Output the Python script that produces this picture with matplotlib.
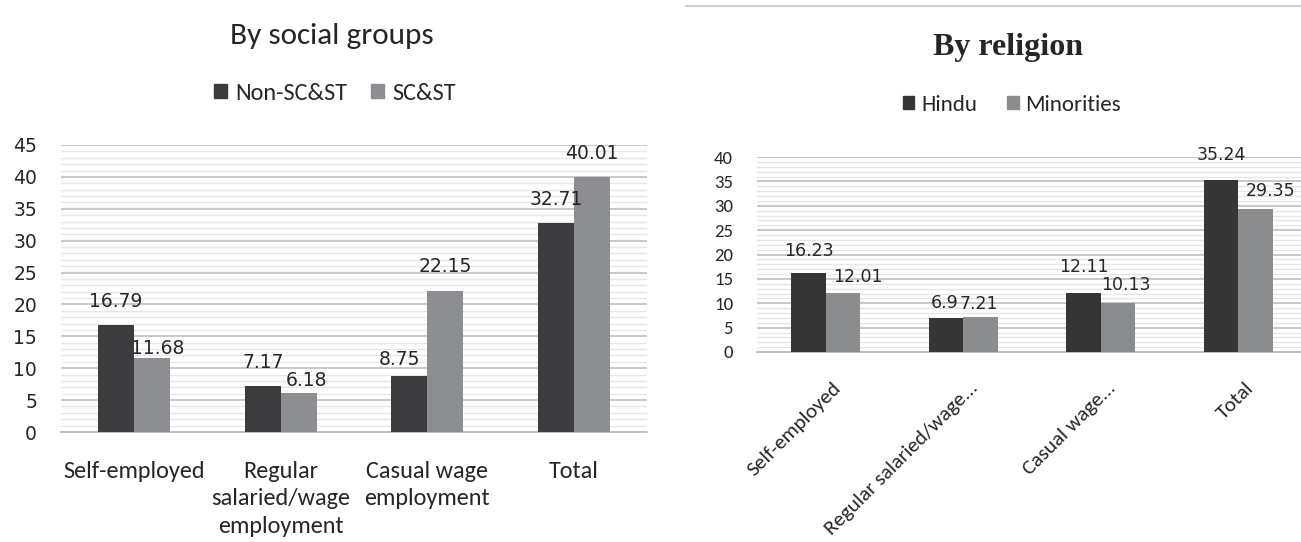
import matplotlib
matplotlib.use("Agg")
import matplotlib.pyplot as plt
from matplotlib import font_manager as fm
from matplotlib.patches import Patch
from matplotlib.lines import Line2D
import numpy as np

# ---------------- data ----------------
social_categories = ["Self-employed", "Regular\nsalaried/wage\nemployment",
                     "Casual wage\nemployment", "Total"]
non_sc_st = [16.79, 7.17, 8.75, 32.71]
sc_st = [11.68, 6.18, 22.15, 40.01]
social_series = ["Non-SC&ST", "SC&ST"]
social_yticks = [0, 5, 10, 15, 20, 25, 30, 35, 40, 45]

religion_categories = ["Self-employed", "Regular salaried/wage...",
                       "Casual wage...", "Total"]
hindu = [16.23, 6.9, 12.11, 35.24]
minorities = [12.01, 7.21, 10.13, 29.35]
religion_series = ["Hindu", "Minorities"]
religion_yticks = [0, 5, 10, 15, 20, 25, 30, 35, 40]

# ---------------- style ----------------
W, H = 1301, 542
avail = {f.name for f in fm.fontManager.ttflist}


def pick(*names):
    for n in names:
        if n in avail:
            return n
    return "DejaVu Sans"


SANS = pick("Carlito", "Lato", "Open Sans")
SERIF = pick("Liberation Serif", "DejaVu Serif")
NUM = "DejaVu Sans"

DARK_L, GRAY_L = "#3c3c3e", "#8d8e91"
DARK_R, GRAY_R = "#353535", "#8b8c8e"
MAJOR_C, MINOR_C = "#c4c4c4", "#e6e6e6"

PT = 0.72  # points per pixel at dpi 100

fig = plt.figure(figsize=(W / 100, H / 100), dpi=100)


def fx(px):
    return px / W


def fy(py):
    return 1 - py / H


axL = fig.add_axes([fx(61), fy(432), (647 - 61) / W, (432 - 145) / H])
axR = fig.add_axes([fx(757), fy(352), (1307 - 757) / W, (352 - 157) / H])


def style_axes(ax, yticks, tick_font, tick_size, ymax):
    ax.set_ylim(0, ymax)
    ax.set_xlim(-0.5, 3.5)
    ax.set_yticks(yticks)
    ax.set_yticks(np.arange(0, ymax + 0.5, 1), minor=True)
    ax.grid(which="major", axis="y", color=MAJOR_C, lw=1.3)
    ax.grid(which="minor", axis="y", color=MINOR_C, lw=1.0)
    ax.set_axisbelow(True)
    for s in ["top", "right", "left"]:
        ax.spines[s].set_visible(False)
    ax.spines["bottom"].set_color("#bdbdbd")
    ax.spines["bottom"].set_linewidth(1.3)
    ax.tick_params(axis="y", which="both", length=0, pad=24 * PT,
                   labelsize=tick_size, labelcolor="#262626")
    ax.tick_params(axis="x", which="both", length=0)
    for lab in ax.get_yticklabels():
        lab.set_fontfamily(tick_font)


def draw_bars(ax, s1, s2, c1, c2, width, offs1, offs2, lab_size):
    x = np.arange(len(s1))
    b1 = ax.bar(x - width / 2, s1, width, color=c1, zorder=3)
    b2 = ax.bar(x + width / 2, s2, width, color=c2, zorder=3)
    for bars, vals, offs in ((b1, s1, offs1), (b2, s2, offs2)):
        for rect, v, (dx, dy) in zip(bars, vals, offs):
            ax.annotate(f"{v:g}", xy=(rect.get_x() + rect.get_width() / 2, v),
                        xytext=(dx * PT, dy * PT), textcoords="offset points",
                        ha="center", va="center", fontsize=lab_size,
                        family=NUM, color="#262626", zorder=5)
    return b1, b2


# ---------------- left chart ----------------
style_axes(axL, social_yticks, NUM, 13.5, 45)
draw_bars(axL, non_sc_st, sc_st, DARK_L, GRAY_L, 0.245,
          [(-1, 23), (0, 24), (-10, 17), (0, 24)],
          [(5.5, 9.5), (7.5, 12.5), (0, 24), (0, 23)], 13.5)
axL.set_xticks(range(len(social_categories)))
axL.set_xticklabels(social_categories, fontsize=17.5, family=SANS,
                    color="#262626", linespacing=1.38)
axL.tick_params(axis="x", pad=29 * PT)

fig.text(fx(332), fy(44), "By social groups", ha="center", va="baseline",
         fontsize=22.5, family=SANS, color="#262626")
handlesL = [Patch(color=DARK_L), Patch(color=GRAY_L)]
fig.legend(handlesL, social_series, loc="center", bbox_to_anchor=(fx(335), fy(93)),
           ncol=2, frameon=False, prop={"family": SANS, "size": 17.5},
           handlelength=0.5, handleheight=0.5, handletextpad=0.35,
           columnspacing=1.0, labelcolor="#262626")

# ---------------- right chart ----------------
style_axes(axR, religion_yticks, SANS, 13.5, 40)
draw_bars(axR, hindu, minorities, DARK_R, GRAY_R, 0.25,
          [(0, 22), (-1, 15), (0, 26), (0, 25)],
          [(15, 16.5), (-2, 13), (8, 17.5), (15, 17.5)], 12.5)
axR.set_xticks(range(len(religion_categories)))
axR.set_xticklabels([])
for i, cat in enumerate(religion_categories):
    axR.annotate(cat, xy=(i, 0), xycoords=("data", "axes fraction"),
                 xytext=(6 * PT, -27 * PT), textcoords="offset points",
                 rotation=45, rotation_mode="anchor", ha="right", va="top",
                 fontsize=15.3, family=SANS, color="#262626",
                 annotation_clip=False)

fig.text(fx(1008), fy(55), "By religion", ha="center", va="baseline",
         fontsize=23, family=SERIF, weight="bold", color="#262626")
handlesR = [Patch(color=DARK_R), Patch(color=GRAY_R)]
fig.legend(handlesR, religion_series, loc="center", bbox_to_anchor=(fx(1012), fy(105)),
           ncol=2, frameon=False, prop={"family": SANS, "size": 16.5},
           handlelength=0.5, handleheight=0.5, handletextpad=0.3,
           columnspacing=1.3, labelcolor="#262626")

fig.add_artist(Line2D([fx(686), 1.0], [fy(6), fy(6)], color="#c8c8c8", lw=1.3,
                      transform=fig.transFigure))

fig.savefig("out.png", dpi=100)
